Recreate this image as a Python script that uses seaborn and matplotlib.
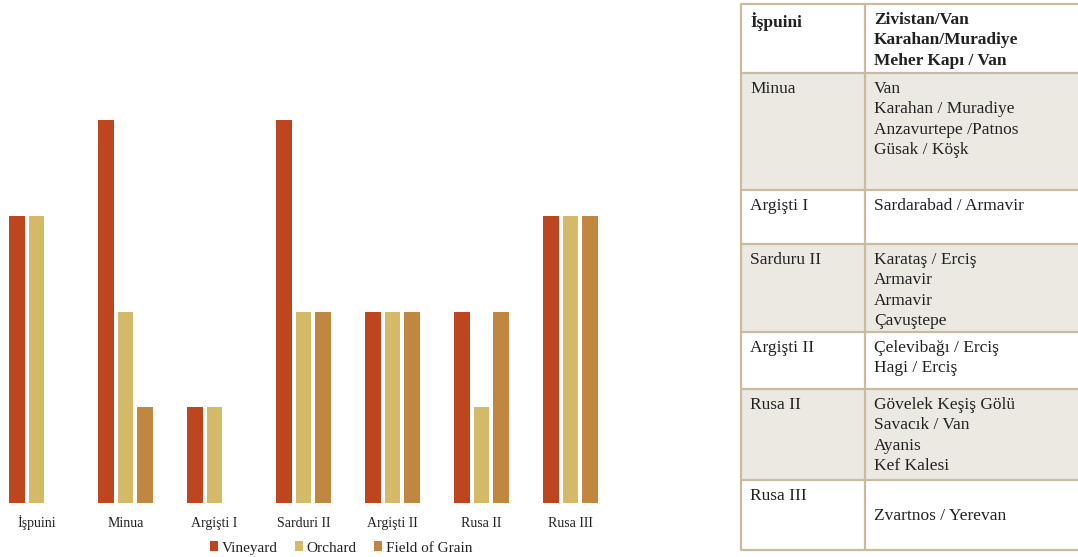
import matplotlib
matplotlib.use("Agg")
import matplotlib.pyplot as plt
import seaborn as sns
import pandas as pd
from matplotlib.patches import Rectangle

# --- bar chart data -------------------------------------------------------
kings = ["İşpuini", "Minua", "Argişti I", "Sarduri II", "Argişti II", "Rusa II", "Rusa III"]
vineyard = [3, 4, 1, 4, 2, 2, 3]
orchard = [3, 2, 1, 2, 2, 1, 3]
field_of_grain = [0, 1, 0, 2, 2, 2, 3]
series_names = ["Vineyard", "Orchard", "Field of Grain"]
series_colors = ["#be461e", "#d4ba68", "#bf8740"]

# --- table data -----------------------------------------------------------
table_rulers = ["İşpuini", "Minua", "Argişti I", "Sarduru II", "Argişti II", "Rusa II", "Rusa III"]
table_sites = [
    ["Zivistan/Van", "Karahan/Muradiye", "Meher Kapı / Van"],
    ["Van", "Karahan / Muradiye", "Anzavurtepe /Patnos", "Güsak / Köşk"],
    ["Sardarabad / Armavir"],
    ["Karataş / Erciş", "Armavir", "Armavir", "Çavuştepe"],
    ["Çelevibağı / Erciş", "Hagi / Erciş"],
    ["Gövelek Keşiş Gölü", "Savacık / Van", "Ayanis", "Kef Kalesi"],
    ["", "Zvartnos / Yerevan"],
]

W, H = 1078, 557
sns.set_theme(style="white")
plt.rcParams["font.family"] = ["Liberation Serif", "DejaVu Serif"]

fig = plt.figure(figsize=(W / 100, H / 100), dpi=100)
fig.patch.set_facecolor("white")

df = pd.DataFrame({
    "king": kings * 3,
    "series": sum([[s] * len(kings) for s in series_names], []),
    "value": vineyard + orchard + field_of_grain,
})

ax = fig.add_axes([0, (H - 503) / H, 600 / W, 402 / H])
sns.barplot(data=df, x="king", y="value", hue="series", hue_order=series_names,
            order=kings, palette=series_colors, saturation=1, width=0.657,
            gap=0.2, linewidth=0, ax=ax, errorbar=None)
ax.set_xlim(-0.41, 6.332)
ax.set_ylim(0, 4.2)
ax.set_xlabel("")
ax.set_ylabel("")
ax.set_yticks([])
ax.tick_params(axis="x", length=0, pad=17, labelsize=10, colors="#222222")
for lab in ax.get_xticklabels():
    lab.set_verticalalignment("baseline")
for s in ax.spines.values():
    s.set_visible(False)
ax.set_facecolor("none")

handles, labels = ax.get_legend_handles_labels()
ax.legend(handles, labels, loc="center", bbox_to_anchor=(341 / W, 9 / H),
          bbox_transform=fig.transFigure, ncol=3, frameon=False,
          fontsize=11, handlelength=0.55, handleheight=0.55,
          handletextpad=0.25, columnspacing=1.1, labelcolor="#222222")

# --- table drawn in pixel coordinates ------------------------------------
tax = fig.add_axes([0, 0, 1, 1])
tax.set_xlim(0, W)
tax.set_ylim(H, 0)
tax.axis("off")

row_edges = [4, 73, 190, 244, 332, 389, 480, 550]
col_left, col_mid, col_right = 741, 865, W + 5
shade = "#ece9e3"
border = "#c9baa0"
line_h = 20.3

for i, (ruler, sites) in enumerate(zip(table_rulers, table_sites)):
    top, bot = row_edges[i], row_edges[i + 1]
    fc = shade if i % 2 == 1 else "white"
    tax.add_patch(Rectangle((col_left, top), col_right - col_left, bot - top,
                            facecolor=fc, edgecolor="none", zorder=1))
    weight = "bold" if i == 0 else "normal"
    tax.text(col_left + 9, top + 8, ruler, ha="left", va="top", fontsize=12.5,
             fontweight=weight, color="#222222", zorder=3)
    for j, site in enumerate(sites):
        tax.text(col_mid + 9, top + 8 + j * line_h, site, ha="left", va="top",
                 fontsize=12.5, fontweight=weight, color="#222222", zorder=3)

for y in row_edges:
    tax.plot([col_left, col_right], [y, y], color=border, lw=1.6, zorder=2,
             solid_capstyle="butt")
for x in (col_left, col_mid):
    tax.plot([x, x], [row_edges[0], row_edges[-1]], color=border, lw=1.6, zorder=2)

fig.savefig("out.png", dpi=100, facecolor="white")
